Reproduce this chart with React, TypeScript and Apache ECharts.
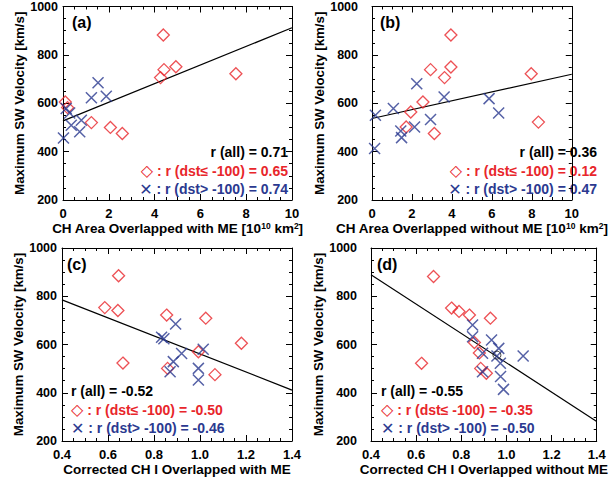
import React, { useEffect, useRef } from "react";
import * as echarts from "echarts";

// ---- data ----
const redA = [[4.38, 882], [4.41, 739], [4.26, 706], [4.93, 751], [7.55, 722], [0.1, 605], [0.2, 582], [1.24, 520], [2.07, 500], [2.59, 475]];
const blueA = [[1.53, 685], [1.24, 623], [1.89, 629], [0.14, 578], [0.29, 560], [0.8, 530], [0.36, 509], [0.73, 482], [0.02, 456]];
const fitA = [[0, 527], [10, 912]];

const redB = [[3.95, 882], [2.93, 739], [3.95, 750], [3.63, 706], [7.97, 722], [8.33, 522], [2.55, 605], [1.94, 564], [1.71, 502], [3.12, 475]];
const blueB = [[2.24, 681], [1.07, 578], [0.17, 550], [3.61, 626], [5.86, 619], [6.34, 560], [2.93, 533], [2.13, 502], [1.44, 485], [1.48, 458], [0.13, 413]];
const fitB = [[0, 537], [10, 720]];

const redC = [[0.646, 885], [0.586, 753], [0.643, 741], [0.855, 722], [1.025, 709], [1.18, 605], [0.993, 570], [0.665, 523], [0.859, 501], [1.065, 475]];
const blueC = [[0.894, 685], [0.833, 630], [0.843, 624], [1.014, 580], [0.92, 563], [0.884, 529], [0.87, 487], [0.993, 501], [0.993, 453]];
const fitC = [[0.4, 785], [1.4, 411]];

const redD = [[0.677, 882], [0.757, 751], [0.79, 737], [0.836, 722], [0.929, 709], [0.858, 608], [0.88, 565], [0.886, 501], [0.911, 481], [0.624, 522]];
const blueD = [[0.85, 681], [0.85, 632], [0.934, 619], [0.966, 584], [0.894, 564], [0.958, 552], [1.074, 552], [0.973, 522], [0.894, 487], [0.974, 467], [0.987, 414]];
const circleD = [[0.958, 556]];
const fitD = [[0.4, 889], [1.4, 281]];

const panelLabels = ["(a)", "(b)", "(c)", "(d)"];
const rAll = ["0.71", "0.36", "-0.52", "-0.55"];
const rRed = ["0.65", "0.12", "-0.50", "-0.35"];
const rBlue = ["0.74", "0.47", "-0.46", "-0.50"];
const xTitles = [
  "CH Area Overlapped with ME [10{sup|10} km{sup|2}]",
  "CH Area Overlapped without ME [10{sup|10} km{sup|2}]",
  "Corrected CH I Overlapped with ME",
  "Corrected CH I Overlapped without ME",
];
const yTitle = "Maximum SW Velocity [km/s]";
const xRanges = [
  { min: 0, max: 10, interval: 2 },
  { min: 0, max: 10, interval: 2 },
  { min: 0.4, max: 1.4, interval: 0.2 },
  { min: 0.4, max: 1.4, interval: 0.2 },
];
const yRange = { min: 200, max: 1000, interval: 200 };

const RED = "#e8262b";
const BLUE = "#2b3990";
const FONT = "'Liberation Sans', Arial, Helvetica, sans-serif";

const grids = [
  { left: 63, top: 6, width: 229, height: 194 },
  { left: 372, top: 6, width: 230, height: 194 },
  { left: 62, top: 248, width: 230, height: 193 },
  { left: 371, top: 248, width: 231, height: 193 },
];
const yLabelMargin = [5, 14, 5, 14];

const XPATH = "path://M0,0L10,10M10,0L0,10";

function buildOption() {
  const xAxis: any[] = [];
  const yAxis: any[] = [];
  const series: any[] = [];
  const graphic: any[] = [];
  const reds = [redA, redB, redC, redD];
  const blues = [blueA, blueB, blueC, blueD];
  const fits = [fitA, fitB, fitC, fitD];

  const tickCommon = {
    axisLine: { show: true, onZero: false, lineStyle: { color: "#000", width: 1 } },
    axisTick: { show: true, inside: true, length: 6, lineStyle: { color: "#000", width: 1 } },
    minorTick: { show: true, splitNumber: 4, length: 3, lineStyle: { color: "#000", width: 1 } },
    splitLine: { show: false },
  };

  for (let i = 0; i < 4; i++) {
    const xr = xRanges[i];
    const isCI = i >= 2;
    xAxis.push({
      type: "value",
      gridIndex: i,
      position: "bottom",
      min: xr.min,
      max: xr.max,
      interval: xr.interval,
      ...tickCommon,
      axisLabel: {
        margin: 7,
        color: "#000",
        fontSize: 13,
        fontWeight: "bold",
        fontFamily: FONT,
        formatter: (v: number) => (isCI ? v.toFixed(1) : String(Math.round(v))),
      },
      name: xTitles[i],
      nameLocation: "middle",
      nameGap: 21,
      nameTextStyle: {
        color: "#000",
        fontSize: 13.5,
        fontWeight: "bold",
        fontFamily: FONT,
        rich: {
          sup: { fontSize: 8.5, fontWeight: "bold", fontFamily: FONT, color: "#000", verticalAlign: "top", padding: [0, 0, 6, 0] },
        },
      },
    });
    xAxis.push({
      type: "value",
      gridIndex: i,
      position: "top",
      min: xr.min,
      max: xr.max,
      interval: xr.interval,
      ...tickCommon,
      axisLabel: { show: false },
    });
    yAxis.push({
      type: "value",
      gridIndex: i,
      position: "left",
      ...yRange,
      ...tickCommon,
      axisLabel: {
        margin: yLabelMargin[i],
        color: "#000",
        fontSize: 12.5,
        fontWeight: "bold",
        fontFamily: FONT,
        formatter: (v: number) => String(v),
      },
      name: yTitle,
      nameLocation: "middle",
      nameGap: 35,
      nameTextStyle: { color: "#000", fontSize: 13.3, fontWeight: "bold", fontFamily: FONT },
    });
    yAxis.push({
      type: "value",
      gridIndex: i,
      position: "right",
      ...yRange,
      ...tickCommon,
      axisLabel: { show: false },
    });

    series.push({
      type: "line",
      xAxisIndex: 2 * i,
      yAxisIndex: 2 * i,
      data: fits[i],
      showSymbol: false,
      symbol: "none",
      lineStyle: { color: "#000", width: 1.2 },
      z: 1,
      silent: true,
    });
    series.push({
      type: "scatter",
      xAxisIndex: 2 * i,
      yAxisIndex: 2 * i,
      data: reds[i],
      symbol: "diamond",
      symbolSize: 12,
      itemStyle: { color: "rgba(0,0,0,0)", borderColor: RED, borderWidth: 1.3 },
      z: 3,
    });
    series.push({
      type: "scatter",
      xAxisIndex: 2 * i,
      yAxisIndex: 2 * i,
      data: blues[i],
      symbol: XPATH,
      symbolSize: 11,
      itemStyle: { color: "rgba(0,0,0,0)", borderColor: BLUE, borderWidth: 1.5 },
      z: 3,
    });
  }
  series.push({
    type: "scatter",
    xAxisIndex: 6,
    yAxisIndex: 6,
    data: circleD,
    symbol: "circle",
    symbolSize: 8,
    itemStyle: { color: "rgba(0,0,0,0)", borderColor: "#222", borderWidth: 1 },
    z: 4,
  });

  // panel labels
  const labelPos = [
    [72, 22],
    [380, 22],
    [67, 264],
    [377, 264],
  ];
  panelLabels.forEach((t, i) => {
    graphic.push({
      type: "text",
      x: labelPos[i][0],
      y: labelPos[i][1],
      style: { text: t, fill: "#000", fontSize: 16, fontWeight: "bold", fontFamily: FONT, verticalAlign: "middle", align: "left" },
    });
  });

  // correlation annotations
  const annPos = [
    { x: 288, y: 152, align: "right" },
    { x: 597, y: 152, align: "right" },
    { x: 71, y: 391, align: "left" },
    { x: 381, y: 391, align: "left" },
  ];
  const symRich = {
    d: { fontSize: 16, lineHeight: 15, fontWeight: "normal", fontFamily: "'DejaVu Sans', sans-serif", fill: RED, color: RED },
    x: { fontSize: 16, lineHeight: 15, fontWeight: "normal", fontFamily: "'DejaVu Sans', sans-serif", fill: BLUE, color: BLUE },
  };
  for (let i = 0; i < 4; i++) {
    const p = annPos[i];
    const base = { fontSize: 14, lineHeight: 15, fontWeight: "bold", fontFamily: FONT, verticalAlign: "middle", align: p.align };
    graphic.push({
      type: "text",
      x: p.x,
      y: p.y,
      style: { ...base, text: "r (all) = " + rAll[i], fill: "#000" },
    });
    graphic.push({
      type: "text",
      x: p.x,
      y: p.y + 18.5,
      style: { ...base, text: "{d|◇} : r (dst≤ -100) = " + rRed[i], fill: RED, rich: symRich },
    });
    graphic.push({
      type: "text",
      x: p.x,
      y: p.y + 37,
      style: { ...base, text: "{x|✕} : r (dst> -100) = " + rBlue[i], fill: BLUE, rich: symRich },
    });
  }

  return {
    animation: false,
    backgroundColor: "#fff",
    grid: grids.map((g) => ({ ...g, show: false, containLabel: false })),
    xAxis,
    yAxis,
    series,
    graphic,
  };
}

export default function App() {
  const ref = useRef<HTMLDivElement>(null);
  useEffect(() => {
    if (!ref.current) return;
    const chart = echarts.init(ref.current, undefined, { renderer: "svg" });
    chart.setOption(buildOption() as any);
    return () => chart.dispose();
  }, []);
  return (
    <div
      ref={ref}
      style={{ position: "fixed", left: 0, top: 0, width: 610, height: 480, background: "#fff" }}
    />
  );
}
